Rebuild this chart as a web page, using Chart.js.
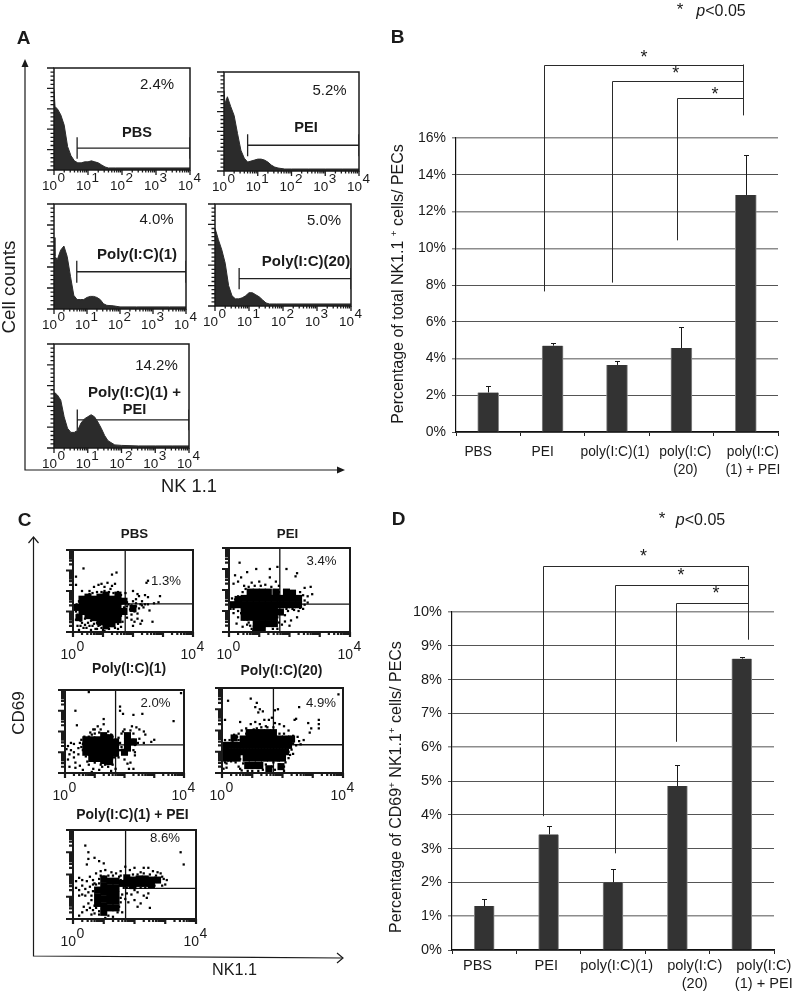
<!DOCTYPE html>
<html>
<head>
<meta charset="utf-8">
<title>NK cell panels</title>
<script src="https://cdn.jsdelivr.net/npm/chart.js@4"></script>
<style>
html, body { margin: 0; padding: 0; background: #fff; }
#page { position: relative; width: 796px; height: 992px; overflow: hidden; font-family: "Liberation Sans", Arial, sans-serif; color: #1a1a1a; }
#page canvas { position: absolute; }
#page svg { position: absolute; left: 0; top: 0; }
.txt { position: absolute; white-space: nowrap; line-height: 1; transform: translate(-50%, -50%); }
.txt sup { font-size: 62%; line-height: 0; }
</style>
</head>
<body>
<div id="page"></div>
<script>
// panel B / D bars
const barCategories = ['PBS', 'PEI', 'poly(I:C)(1)', ['poly(I:C)', '(20)'], ['poly(I:C)', '(1) + PEI']];
const nkValues = [2.15, 4.7, 3.65, 4.57, 12.9];
const nkErrorTops = [2.5, 4.83, 3.85, 5.72, 15.05];
const nkTicks = [0, 2, 4, 6, 8, 10, 12, 14, 16];
const cd69Values = [1.3, 3.42, 2.0, 4.85, 8.62];
const cd69ErrorTops = [1.5, 3.67, 2.4, 5.47, 8.68];
const cd69Ticks = [0, 1, 2, 3, 4, 5, 6, 7, 8, 9, 10];
// brackets: [category position, top value, bottom value]
const nkBrackets = [[0.87, 20, 7.65], [1.92, 19.08, 8.13], [2.93, 18.2, 10.43]];
const nkBracketRight = [3.96, 20, 17.23];
const cd69Brackets = [[0.915, 11.36, 3.96], [2.025, 10.81, 2.86], [2.98, 10.27, 6.16]];
const cd69BracketRight = [4.09, 11.36, 9.18];

// panel A histograms, x in decades of NK1.1 signal, y in % of the frame
const histBins = [0, 0.03, 0.1, 0.2, 0.3, 0.4, 0.5, 0.6, 0.7, 0.8, 0.9, 1, 1.1, 1.2, 1.3, 1.4, 1.5, 1.6, 1.8, 2, 2.5, 3, 3.5, 4];
const pbsHist = [79, 62, 60, 54, 44, 23, 14, 9, 7, 7, 8, 8, 9, 8, 7, 5, 3, 2, 2, 2, 2, 2, 2, 2];
const peiHist = [81, 68, 75, 65, 56, 38, 21, 13, 9, 10, 11, 12, 12, 11, 9, 6, 4, 3, 2, 2, 2, 2, 2, 2];
const pic1Hist = [68, 50, 47, 56, 60, 50, 31, 13, 9, 9, 9, 11, 12, 12, 11, 9, 5, 3.5, 3, 2, 2, 2, 2, 2];
const pic20Hist = [76, 73, 65, 55, 42, 20, 10, 7, 7, 8, 10, 13, 13, 11, 9, 6, 3, 2, 2, 2, 2, 2, 2, 2];
const comboHist = [53, 53, 51, 46, 30, 19, 15, 15, 17, 24, 28, 30, 32, 30, 25, 19, 12, 7, 3, 2.5, 2, 2, 2, 2];
// gates: [start decade, level, half height of the end marks]
const pbsGate = [0.68, 21.5, 10.5];
const peiGate = [0.7, 26, 11];
const pic1Gate = [0.69, 35.5, 10.5];
const pic20Gate = [0.71, 26.8, 10.5];
const comboGate = [0.69, 27, 10];

// panel C dot plots, decades on both axes; "dense" marks are the solid part of each cloud
const pbsDense = [[0.3,1.0],[0.3,1.3],[0.5,0.8],[0.5,1.1],[0.5,1.4],[0.7,0.7],[0.7,1.0],[0.7,1.3],[0.7,1.6],[0.9,0.5],[0.9,0.8],[0.9,1.1],[0.9,1.4],[0.9,1.7],[1.1,0.3],[1.1,0.6],[1.1,0.9],[1.1,1.2],[1.1,1.5],[1.1,1.8],[1.3,0.4],[1.3,0.7],[1.3,1.0],[1.3,1.3],[1.3,1.6],[1.5,0.9],[1.5,1.2],[1.5,1.5],[0.2,0.7],[2.0,1.15],[0.3,1.6],[0.5,1.7],[1.5,0.6],[1.5,1.8],[1.7,1.0],[1.7,1.5],[0.1,1.2]];
const pbsSparse = [[0.15,0.3],[0.3,0.45],[0.45,0.2],[0.5,0.45],[0.65,0.3],[0.75,0.15],[0.85,0.3],[1.0,0.1],[1.5,0.4],[1.55,0.6],[1.6,0.25],[1.65,0.5],[0.3,2.0],[0.55,2.0],[0.7,2.2],[0.85,2.3],[0.95,2.35],[1.05,2.2],[1.15,2.4],[1.3,2.25],[1.4,2.35],[1.25,2.1],[1.5,1.95],[1.6,1.8],[1.3,2.8],[1.45,2.9],[0.35,3.1],[0.1,2.7],[0.1,2.3],[1.8,1.45],[1.95,1.3],[2.0,1.5],[2.1,1.6],[2.2,1.75],[2.3,1.5],[2.4,1.8],[2.5,1.7],[2.1,1.25],[2.25,1.35],[2.35,1.2],[2.5,1.35],[2.7,1.4],[2.85,1.45],[2.9,1.75],[2.55,1.05],[1.9,1.1],[2.05,1.0],[2.15,0.9],[1.95,0.85],[2.05,0.5],[2.15,0.65],[2.25,0.4],[2.3,0.55],[2.0,0.3],[2.65,0.5],[1.8,0.7],[2.5,2.5],[2.45,2.4],[1.75,1.9],[2.0,2.0],[2.15,1.85]];
const pbsEdge = [[0.1,1.0],[0.12,1.35],[0.15,0.85],[0.1,0.6],[0.2,1.5],[0.25,0.55],[0.35,1.6],[0.4,0.65],[0.45,1.75],[0.55,1.85],[0.6,0.55],[0.65,1.9],[0.8,0.45],[0.8,1.95],[0.95,1.95],[1.05,2.0],[1.2,1.95],[1.35,1.9],[1.45,1.75],[1.6,1.6],[1.65,1.4],[1.7,1.2],[1.65,1.0],[1.6,0.8],[1.45,0.65],[0.35,0.2],[0.55,0.3],[0.7,0.4],[0.8,0.15],[0.95,0.2],[1.05,0.05],[1.2,0.15],[1.4,0.2],[1.5,0.15],[0.2,0.1],[0.25,0.3],[0.4,0.35],[0.6,0.1],[0.9,0.35],[1.8,1.25],[1.85,1.35],[2.2,1.15],[2.3,1.3],[2.4,1.35],[2.1,1.4],[1.95,0.6]];
const peiDense = [[0.1,1.3],[0.3,1.3],[0.5,1.3],[0.7,1.3],[0.9,1.3],[1.1,1.3],[1.3,1.3],[1.5,1.3],[1.7,1.3],[1.9,1.3],[2.1,1.3],[2.3,1.3],[0.7,1.6],[0.9,1.6],[1.1,1.6],[1.3,1.6],[1.5,1.6],[1.9,1.6],[2.1,1.6],[2.3,1.6],[0.7,1.9],[0.9,1.9],[1.1,1.9],[1.3,1.9],[1.9,1.9],[2.1,1.85],[0.5,1.0],[0.7,1.0],[0.9,1.0],[1.1,1.0],[1.3,1.0],[1.5,1.0],[0.7,0.7],[0.9,0.7],[1.1,0.7],[1.3,0.7],[0.9,0.4],[1.1,0.4],[1.3,0.4],[0.9,0.15],[1.1,0.15],[0.5,1.6],[0.3,1.55],[1.7,1.6],[1.55,1.9],[1.7,0.95],[0.5,0.7],[1.5,0.7],[1.5,0.4]];
const peiSparse = [[0.3,2.4],[0.4,2.6],[0.15,2.3],[0.2,2.7],[0.5,2.2],[0.35,3.3],[0.6,2.85],[0.9,3.0],[1.35,3.0],[1.6,3.1],[1.9,3.0],[2.2,2.65],[2.25,2.8],[1.35,2.6],[1.55,2.4],[1.65,2.2],[1.0,2.4],[0.75,2.35],[2.5,2.1],[2.7,2.15],[2.75,1.8],[2.6,1.7],[2.5,1.5],[2.6,1.4],[0.15,0.9],[0.3,0.7],[0.25,0.4],[0.5,0.6],[0.45,0.25],[0.6,0.35],[0.75,0.15],[1.5,0.5],[1.6,0.7],[1.75,0.9],[1.85,0.8],[1.95,1.0],[1.75,0.35],[1.85,0.5],[2.0,0.3],[2.05,0.55],[2.25,0.7],[2.3,1.0],[2.1,1.1],[0.15,1.1],[1.6,0.15]];
const peiEdge = [[0.05,1.1],[0.1,1.6],[0.2,1.55],[0.3,1.7],[0.45,1.65],[0.45,1.9],[0.55,2.05],[0.65,2.15],[0.85,2.2],[1.05,2.2],[1.2,2.25],[1.4,2.15],[1.5,2.0],[1.65,1.9],[1.7,1.65],[2.35,1.9],[2.45,1.75],[2.5,1.3],[2.45,1.1],[2.35,1.15],[2.15,1.05],[1.9,1.1],[1.7,1.05],[1.6,0.9],[1.55,0.75],[1.5,0.3],[1.45,0.15],[1.65,0.45],[0.6,0.6],[0.55,0.8],[0.4,0.9],[0.3,1.0],[0.65,0.45],[0.7,0.3],[0.8,0.05],[1.0,0.02]];
const pic1Dense = [[0.9,1.0],[0.9,1.3],[0.9,1.6],[1.1,0.7],[1.1,1.0],[1.1,1.3],[1.1,1.6],[1.3,0.6],[1.3,0.9],[1.3,1.2],[1.3,1.5],[1.3,1.8],[1.5,0.8],[1.5,1.1],[1.5,1.4],[1.7,1.2],[1.7,1.5],[0.7,1.3],[2.1,1.5],[2.1,1.2],[2.1,1.8],[0.7,1.0],[0.7,1.6],[1.5,0.55],[1.7,0.95],[1.5,1.7],[2.3,1.5],[2.0,1.0],[0.9,0.7]];
const pic1Sparse = [[0.1,1.3],[0.2,1.1],[0.3,1.4],[0.3,1.0],[0.45,1.2],[0.5,1.45],[0.45,0.9],[0.6,1.1],[0.55,1.6],[0.65,1.75],[0.7,0.8],[0.75,0.55],[0.15,0.3],[0.35,0.5],[0.5,0.35],[0.6,0.15],[0.8,0.4],[0.95,0.2],[1.0,0.5],[1.15,0.15],[1.25,0.3],[1.45,0.3],[1.55,0.1],[1.4,0.5],[0.95,2.1],[0.4,2.3],[0.35,3.0],[0.85,1.95],[1.0,2.1],[1.1,2.25],[1.2,2.1],[1.3,2.35],[1.3,2.6],[1.45,2.0],[1.55,1.85],[1.85,3.0],[1.85,3.2],[1.95,2.85],[2.3,2.8],[2.6,2.85],[2.0,2.1],[2.25,2.25],[2.4,2.2],[2.5,2.1],[2.65,2.0],[2.7,1.85],[2.5,1.65],[2.45,1.45],[2.65,1.45],[2.9,1.5],[3.0,1.6],[2.35,1.0],[2.35,0.85],[1.95,0.95],[2.0,0.65],[2.1,0.45],[2.2,0.5],[2.3,0.2],[2.15,0.2],[0.8,3.9],[3.65,2.5],[3.9,3.85],[1.7,0.9],[1.8,0.75]];
const pic1Edge = [[0.55,1.25],[0.6,1.4],[0.65,1.0],[0.7,0.95],[0.7,1.65],[0.8,1.75],[0.9,1.85],[1.0,1.9],[1.15,1.95],[1.45,1.8],[1.6,1.75],[1.8,1.7],[1.85,1.45],[1.9,1.9],[1.95,2.0],[2.2,2.05],[2.3,1.9],[2.3,1.6],[2.35,1.35],[1.85,1.1],[1.7,1.0],[1.65,0.75],[1.5,0.55],[1.35,0.4],[1.2,0.4],[0.95,0.6],[0.85,0.7],[0.15,0.9],[0.05,1.15],[0.2,1.45],[0.1,0.65],[0.3,0.75],[1.9,1.25],[2.0,1.05],[2.3,1.1],[0.35,0.25],[0.9,0.05],[1.6,0.4],[1.7,0.2]];
const pic20Dense = [[0.3,1.0],[0.5,1.0],[0.7,1.0],[0.9,1.0],[1.1,1.0],[1.3,1.0],[1.5,1.0],[1.7,1.0],[1.9,1.0],[2.1,1.0],[0.2,1.3],[0.4,1.3],[0.6,1.3],[0.8,1.3],[1.0,1.3],[1.2,1.3],[1.4,1.3],[1.6,1.3],[1.8,1.3],[2.0,1.3],[2.2,1.3],[0.7,1.6],[0.9,1.6],[1.1,1.6],[1.3,1.6],[1.5,1.6],[1.7,1.6],[1.9,1.6],[2.1,1.6],[1.3,1.9],[1.5,1.9],[1.7,1.9],[0.1,0.7],[0.8,0.7],[1.0,0.7],[1.2,0.7],[1.4,0.7],[1.6,0.7],[2.0,0.7],[0.85,0.35],[1.05,0.35],[1.25,0.35],[1.55,0.2],[1.95,0.3],[0.1,1.0],[0.1,1.3],[0.4,1.65],[0.5,0.7],[0.3,0.7],[2.3,1.6],[1.8,0.7],[1.1,1.9],[0.9,1.9]];
const pic20Sparse = [[0.1,0.5],[0.2,0.6],[0.05,0.2],[0.15,0.25],[0.3,0.55],[0.45,0.5],[0.55,0.3],[0.6,0.2],[0.7,0.45],[0.65,0.12],[1.45,0.4],[1.65,0.3],[1.75,0.15],[1.7,0.5],[1.85,0.6],[2.1,0.5],[2.2,0.7],[2.35,0.9],[0.4,1.8],[0.55,1.85],[0.65,2.0],[0.8,2.1],[0.6,2.4],[0.95,2.3],[1.1,2.4],[1.15,2.1],[1.25,2.3],[1.4,2.5],[1.45,2.2],[1.55,2.5],[1.65,2.6],[1.75,2.35],[1.9,2.3],[2.05,2.2],[2.2,2.0],[2.35,1.75],[2.5,1.7],[2.55,1.5],[2.7,1.55],[2.9,1.9],[2.95,2.1],[3.2,2.1],[3.2,2.3],[3.2,2.5],[2.85,2.35],[2.4,2.5],[2.45,2.55],[2.55,3.1],[1.1,3.1],[1.15,3.3],[1.25,3.0],[1.2,2.85],[1.35,2.9],[1.75,2.95],[1.85,3.0],[0.2,3.4],[0.95,3.5],[3.85,3.7],[0.1,2.5]];
const pic20Edge = [[0.05,1.2],[0.05,0.95],[0.15,1.0],[0.1,1.55],[0.25,1.55],[0.35,1.5],[0.45,1.6],[0.5,1.7],[0.55,1.55],[0.8,1.85],[0.95,1.85],[1.05,1.9],[1.15,1.85],[1.05,2.05],[1.3,2.15],[1.5,2.15],[1.7,2.15],[1.9,1.85],[2.05,1.85],[2.25,1.7],[2.35,1.55],[2.35,1.4],[2.45,1.3],[2.6,1.35],[2.3,1.1],[2.2,1.0],[2.25,0.85],[0.2,0.75],[0.15,0.45],[0.4,0.75],[0.5,0.7],[0.6,0.65],[1.75,0.7],[1.85,0.75],[1.9,0.4],[2.05,0.3],[2.05,0.1],[1.6,0.05],[1.2,0.1],[1.35,0.15],[1.0,0.1],[0.85,0.1]];
const comboDense = [[0.8,0.7],[0.8,1.0],[0.8,1.3],[1.0,0.3],[1.0,0.6],[1.0,0.9],[1.0,1.2],[1.0,1.5],[1.0,1.8],[1.2,0.5],[1.2,0.8],[1.2,1.1],[1.2,1.4],[1.2,1.7],[1.4,0.8],[1.4,1.1],[1.4,1.4],[1.4,1.7],[1.75,1.6],[1.95,1.5],[1.95,1.75],[2.15,1.6],[2.15,1.8],[2.35,1.6],[2.35,1.8],[2.55,1.75],[2.75,1.75],[1.4,0.5],[1.6,1.6],[1.75,1.85],[2.55,1.55]];
const comboSparse = [[0.1,1.4],[0.2,1.3],[0.3,1.5],[0.4,1.35],[0.5,1.2],[0.55,1.45],[0.6,1.05],[0.1,1.7],[0.2,1.85],[0.3,1.75],[0.45,1.7],[0.55,1.9],[0.65,1.75],[0.75,2.05],[0.9,2.15],[1.05,2.2],[1.25,2.1],[1.4,2.05],[1.55,2.15],[1.7,2.35],[1.85,2.2],[2.0,2.3],[2.2,2.1],[2.3,2.3],[2.45,2.3],[2.6,2.15],[2.75,2.1],[2.85,2.05],[2.95,1.8],[3.0,1.55],[2.9,1.5],[2.65,1.5],[0.3,0.3],[0.35,0.55],[0.2,0.15],[0.45,0.4],[0.5,0.7],[0.6,0.2],[0.7,0.25],[0.75,0.5],[1.45,0.3],[1.5,0.55],[1.6,0.3],[1.7,0.9],[1.8,0.75],[1.9,1.1],[2.0,0.85],[2.1,0.55],[2.2,0.7],[2.3,1.05],[2.4,0.95],[2.45,1.15],[2.5,0.5],[1.75,1.15],[2.1,1.2],[0.4,3.3],[0.5,3.0],[0.45,2.45],[0.5,2.7],[0.7,2.75],[0.85,2.6],[1.0,2.5],[3.5,3.0],[3.6,2.45],[1.0,1.9],[1.15,0.15],[1.3,0.1]];
const comboEdge = [[0.6,0.85],[0.65,1.25],[0.65,1.55],[0.7,1.6],[0.75,1.55],[0.85,1.6],[0.85,1.8],[0.9,1.95],[1.15,1.95],[1.3,1.95],[1.5,1.9],[1.55,1.75],[1.6,1.55],[1.65,1.4],[1.75,1.4],[1.85,1.4],[1.55,1.95],[1.75,1.9],[1.95,2.0],[2.1,2.0],[2.3,2.05],[2.5,2.0],[2.7,1.95],[2.9,1.9],[3.05,1.75],[2.45,1.5],[2.2,1.4],[2.0,1.3],[2.35,1.4],[2.55,1.45],[1.55,0.95],[1.55,0.75],[1.6,1.1],[0.7,0.6],[0.65,0.4],[0.85,0.35],[0.85,0.2],[1.05,0.05],[1.35,0.45],[1.4,0.55],[0.55,0.5],[0.4,1.05],[0.3,1.1],[0.2,1.05]];
// quadrant crossing: [x decade, y decade]
const pbsCross = [1.74, 1.37];
const peiCross = [1.68, 1.33];
const pic1Cross = [1.7, 1.36];
const pic20Cross = [1.7, 1.33];
const comboCross = [1.71, 1.38];

const FONT = '"Liberation Sans", Arial, sans-serif';
const page = document.getElementById('page');

function addCanvas(left, top, width, height) {
  const c = document.createElement('canvas');
  c.width = width;
  c.height = height;
  c.style.left = left + 'px';
  c.style.top = top + 'px';
  c.style.width = width + 'px';
  c.style.height = height + 'px';
  page.appendChild(c);
  return c;
}

function drawDecadeLabel(ctx, x, y, exp, size, supUp) {
  ctx.font = size + 'px ' + FONT;
  ctx.fillStyle = '#1a1a1a';
  ctx.textBaseline = 'middle';
  ctx.textAlign = 'right';
  ctx.fillText('10', x + 3, y);
  ctx.textAlign = 'left';
  ctx.fillText(String(exp), x + 3.5, y - supUp);
}

// frame, log ticks and decade labels around a flow cytometry plot
const flowAxes = {
  id: 'flowAxes',
  afterDatasetsDraw(chart, args, opts) {
    const ctx = chart.ctx;
    const a = chart.chartArea;
    const sx = chart.scales.x;
    const sy = chart.scales.y;
    ctx.save();
    ctx.strokeStyle = '#1a1a1a';
    ctx.lineWidth = opts.frame;
    ctx.strokeRect(a.left, a.top, a.right - a.left, a.bottom - a.top);
    ctx.lineWidth = opts.tick;
    ctx.beginPath();
    for (let d = 0; d <= 4; d++) {
      const px = sx.getPixelForValue(d);
      ctx.moveTo(px, a.bottom);
      ctx.lineTo(px, a.bottom + opts.major);
      if (d === 4) break;
      for (let m = 2; m <= 9; m++) {
        const mx = sx.getPixelForValue(d + Math.log10(m));
        ctx.moveTo(mx, a.bottom);
        ctx.lineTo(mx, a.bottom + opts.minor);
      }
    }
    if (opts.linearY) {
      for (let v = 0; v <= 100; v += 4) {
        const py = sy.getPixelForValue(v);
        ctx.moveTo(a.left, py);
        ctx.lineTo(a.left - (v % 20 === 0 ? opts.major + 2 : opts.minor + 1), py);
      }
    } else {
      for (let d = 0; d <= 4; d++) {
        const py = sy.getPixelForValue(d);
        ctx.moveTo(a.left, py);
        ctx.lineTo(a.left - opts.major - 2, py);
        if (d === 4) break;
        for (let m = 2; m <= 9; m++) {
          const my = sy.getPixelForValue(d + Math.log10(m));
          ctx.moveTo(a.left, my);
          ctx.lineTo(a.left - opts.minor - 1, my);
        }
      }
    }
    ctx.stroke();
    opts.labels.forEach(d => {
      drawDecadeLabel(ctx, sx.getPixelForValue(d), a.bottom + opts.labelGap, d, opts.labelSize, opts.supUp);
    });
    ctx.restore();
  }
};

function histogramChart(box, counts, gate) {
  const pad = { left: 16, right: 14, top: 4, bottom: 28 };
  const canvas = addCanvas(box[0] - pad.left, box[1] - pad.top, box[2] - box[0] + pad.left + pad.right, box[3] - box[1] + pad.top + pad.bottom);
  const curve = histBins.map((b, i) => ({ x: b, y: counts[i] }));
  const [start, level, half] = gate;
  const gateLine = [
    { x: start, y: level + half }, { x: start, y: level - half }, { x: start, y: level },
    { x: 4, y: level }, { x: 4, y: level + half }, { x: 4, y: level - half }
  ];
  new Chart(canvas, {
    type: 'line',
    data: {
      datasets: [
        { data: curve, borderColor: '#2b2b2b', backgroundColor: '#2b2b2b', borderWidth: 1, fill: 'origin', pointRadius: 0, tension: 0 },
        { data: gateLine, borderColor: '#222', borderWidth: 1.3, fill: false, pointRadius: 0, tension: 0 }
      ]
    },
    options: {
      responsive: false,
      animation: false,
      layout: { padding: pad },
      scales: {
        x: { type: 'linear', min: 0, max: 4, display: false },
        y: { min: 0, max: 100, display: false }
      },
      plugins: {
        legend: { display: false },
        tooltip: { enabled: false },
        flowAxes: { frame: 1.5, tick: 1.3, major: 5, minor: 2.5, linearY: true, labels: [0, 1, 2, 3, 4], labelGap: 16, labelSize: 13.5, supUp: 8 }
      }
    },
    plugins: [flowAxes]
  });
}

function dotPlotChart(box, dense, sparse, edge, cross) {
  const pad = { left: 18, right: 16, top: 4, bottom: 32 };
  const canvas = addCanvas(box[0] - pad.left, box[1] - pad.top, box[2] - box[0] + pad.left + pad.right, box[3] - box[1] + pad.top + pad.bottom);
  const toPoints = list => list.map(p => ({ x: p[0], y: p[1] }));
  new Chart(canvas, {
    type: 'scatter',
    data: {
      datasets: [
        { data: toPoints(dense), pointStyle: 'rect', pointRadius: 5, backgroundColor: '#000', borderWidth: 0 },
        { data: toPoints(sparse.concat(edge)), pointStyle: 'rect', pointRadius: 1.6, backgroundColor: '#000', borderWidth: 0 },
        { type: 'line', data: [{ x: cross[0], y: 0 }, { x: cross[0], y: 4 }], borderColor: '#111', borderWidth: 1.3, pointRadius: 0, fill: false },
        { type: 'line', data: [{ x: cross[0], y: cross[1] }, { x: 4, y: cross[1] }], borderColor: '#111', borderWidth: 1.3, pointRadius: 0, fill: false }
      ]
    },
    options: {
      responsive: false,
      animation: false,
      layout: { padding: pad },
      scales: {
        x: { type: 'linear', min: 0, max: 4, display: false },
        y: { type: 'linear', min: 0, max: 4, display: false }
      },
      plugins: {
        legend: { display: false },
        tooltip: { enabled: false },
        flowAxes: { frame: 2, tick: 2.2, major: 5, minor: 3, linearY: false, labels: [0, 4], labelGap: 23, labelSize: 14, supUp: 8 }
      }
    },
    plugins: [flowAxes]
  });
}

// error whiskers, significance brackets and hand placed category labels
const barExtras = {
  id: 'barExtras',
  afterDatasetsDraw(chart, args, opts) {
    const ctx = chart.ctx;
    const sx = chart.scales.x;
    const sy = chart.scales.y;
    ctx.save();
    ctx.strokeStyle = '#1a1a1a';
    ctx.lineWidth = 1;
    ctx.beginPath();
    opts.errorTops.forEach((top, i) => {
      const px = Math.round(sx.getPixelForValue(i)) + 0.5;
      const py = Math.round(sy.getPixelForValue(top)) + 0.5;
      ctx.moveTo(px, sy.getPixelForValue(opts.values[i]));
      ctx.lineTo(px, py);
      ctx.moveTo(px - 2.5, py);
      ctx.lineTo(px + 2.5, py);
    });
    ctx.stroke();
    ctx.strokeStyle = '#2a2a2a';
    const rx = Math.round(sx.getPixelForValue(opts.right[0])) + 0.5;
    ctx.beginPath();
    ctx.moveTo(rx, sy.getPixelForValue(opts.right[1]));
    ctx.lineTo(rx, sy.getPixelForValue(opts.right[2]));
    opts.brackets.forEach(b => {
      const px = Math.round(sx.getPixelForValue(b[0])) + 0.5;
      const top = Math.round(sy.getPixelForValue(b[1])) + 0.5;
      ctx.moveTo(rx, top);
      ctx.lineTo(px, top);
      ctx.lineTo(px, sy.getPixelForValue(b[2]));
    });
    ctx.stroke();
    ctx.font = opts.labelSize + 'px ' + FONT;
    ctx.fillStyle = '#1a1a1a';
    ctx.textAlign = 'center';
    ctx.textBaseline = 'middle';
    const base = chart.chartArea.bottom;
    chart.data.labels.forEach((label, i) => {
      const lines = Array.isArray(label) ? label : [label];
      lines.forEach((line, j) => {
        ctx.fillText(line, sx.getPixelForValue(i) + opts.labelShift[i], base + opts.labelRows[j]);
      });
    });
    ctx.restore();
  }
};

function barChart(frame, area, values, errorTops, ticks, extras) {
  const canvas = addCanvas(frame[0], frame[1], frame[2], frame[3]);
  new Chart(canvas, {
    type: 'bar',
    data: {
      labels: barCategories,
      datasets: [{ data: values, backgroundColor: '#333', borderColor: '#8a8a8a', borderWidth: { left: 1, right: 1 }, barThickness: area.bar }]
    },
    options: {
      responsive: false,
      animation: false,
      layout: { padding: { left: 0, top: area.top, right: area.right, bottom: 0 } },
      scales: {
        x: {
          afterFit(s) { s.height = area.xHeight; },
          border: { color: '#111', width: 1.2 },
          grid: { offset: true, drawOnChartArea: false, tickLength: 4, color: '#222' },
          ticks: { display: false }
        },
        y: {
          min: ticks[0],
          max: ticks[ticks.length - 1],
          afterFit(s) { s.width = area.yWidth; },
          afterBuildTicks(s) { s.ticks = ticks.map(v => ({ value: v })); },
          border: { color: '#111', width: 1.2 },
          grid: {
            color: ctx => (extras.paleTicks.includes(ctx.tick.value) ? '#8c8c8c' : '#555'),
            lineWidth: ctx => (extras.paleTicks.includes(ctx.tick.value) ? 1.5 : 1),
            tickLength: 4
          },
          ticks: {
            color: '#1a1a1a',
            padding: 6,
            font: { family: FONT, size: area.tickSize },
            callback: v => v + '%'
          }
        }
      },
      plugins: {
        legend: { display: false },
        tooltip: { enabled: false },
        barExtras: Object.assign({ errorTops: errorTops, values: values }, extras)
      }
    },
    plugins: [barExtras]
  });
}

// panel A
histogramChart([54, 68, 190, 170], pbsHist, pbsGate);
histogramChart([224, 72, 359, 171], peiHist, peiGate);
histogramChart([54, 204, 186, 309], pic1Hist, pic1Gate);
histogramChart([215, 204, 351, 306], pic20Hist, pic20Gate);
histogramChart([54, 344, 189, 448], comboHist, comboGate);

// panel C
dotPlotChart([73, 549, 193, 632], pbsDense, pbsSparse, pbsEdge, pbsCross);
dotPlotChart([229, 547, 350, 632], peiDense, peiSparse, peiEdge, peiCross);
dotPlotChart([65, 689, 184, 773], pic1Dense, pic1Sparse, pic1Edge, pic1Cross);
dotPlotChart([222, 687, 343, 773], pic20Dense, pic20Sparse, pic20Edge, pic20Cross);
dotPlotChart([73, 829, 196, 919], comboDense, comboSparse, comboEdge, comboCross);

// panel B
barChart([385, 0, 411, 495], { top: 138, right: 18, xHeight: 63, yWidth: 71, bar: 21, tickSize: 14 }, nkValues, nkErrorTops, nkTicks, {
  brackets: nkBrackets,
  right: nkBracketRight,
  paleTicks: [4, 10, 12, 16],
  labelSize: 13.8,
  labelShift: [-10, -10, -2, 4, 7],
  labelRows: [20.5, 38]
});

// panel D
barChart([385, 500, 411, 492], { top: 112, right: 22, xHeight: 42, yWidth: 67, bar: 20, tickSize: 14.5 }, cd69Values, cd69ErrorTops, cd69Ticks, {
  brackets: cd69Brackets,
  right: cd69BracketRight,
  paleTicks: [1, 6, 10],
  labelSize: 14.6,
  labelShift: [-6.7, -2.3, 3.7, 17.3, 22],
  labelRows: [16, 34]
});

// axis arrows of the two flow panels
page.insertAdjacentHTML('beforeend', `
<svg width="796" height="992" fill="none" stroke="#1a1a1a" stroke-width="1.2">
  <path d="M25 66V470H342"/>
  <path d="M25 59l-3.5 8h7z M345 470l-8-3.5v7z" fill="#1a1a1a" stroke="none"/>
  <path d="M33.5 538V956L342 958"/>
  <path d="M28.5 543l5-6 5 6 M337 953l6 5-6 5"/>
</svg>`);

// text: [html, centre x, centre y, size, bold, rotated]
const textItems = [
  ['A', 23.5, 37, 19, true], ['B', 397.5, 36, 19, true], ['C', 24.5, 519, 19, true], ['D', 398.5, 518, 19, true],
  ['Cell counts', 8.5, 287, 18.8, false, true], ['NK 1.1', 189, 486, 18.3, false],
  ['CD69', 18, 713, 17, false, true], ['NK1.1', 234.5, 969, 16.2, false],
  ['2.4%', 157, 83, 15, false], ['PBS', 137, 132, 14.6, true],
  ['5.2%', 329.5, 89, 15, false], ['PEI', 306, 127, 14.6, true],
  ['4.0%', 156.5, 218, 15, false], ['Poly(I:C)(1)', 137, 253, 15, true],
  ['5.0%', 324, 219, 15, false], ['Poly(I:C)(20)', 306, 260, 15, true],
  ['14.2%', 156.5, 364, 15, false], ['Poly(I:C)(1) +', 134.5, 391, 15, true], ['PEI', 134.5, 409, 14.6, true],
  ['PBS', 134.5, 534, 13.3, true], ['PEI', 287.5, 534, 13.3, true],
  ['Poly(I:C)(1)', 129, 669, 13.9, true], ['Poly(I:C)(20)', 281.5, 671, 13.9, true], ['Poly(I:C)(1) + PEI', 132.5, 815, 13.9, true],
  ['1.3%', 166, 581, 13.2, false], ['3.4%', 321.5, 561, 13.2, false], ['2.0%', 155.5, 703, 13.2, false],
  ['4.9%', 321, 703, 13.2, false], ['8.6%', 165, 838, 13.2, false],
  ['Percentage of total NK1.1 <sup>+</sup> cells/ PECs', 398, 284, 16, false, true],
  ['Percentage of CD69<sup>+</sup> NK1.1<sup>+</sup> cells/ PECs', 396, 787, 16, false, true],
  ['*', 680, 9, 17, false], ['<i>p</i>&lt;0.05', 721, 11, 16, false],
  ['*', 662, 518, 17, false], ['<i>p</i>&lt;0.05', 700.5, 520, 16, false],
  ['*', 644, 57, 18, false], ['*', 675.7, 73, 18, false], ['*', 715, 94, 18, false],
  ['*', 643.5, 556, 18, false], ['*', 681, 575, 18, false], ['*', 716, 593, 18, false]
];
textItems.forEach(([html, x, y, size, bold, rotated]) => {
  const d = document.createElement('div');
  d.className = 'txt';
  d.innerHTML = html;
  d.style.left = x + 'px';
  d.style.top = y + 'px';
  d.style.fontSize = size + 'px';
  if (bold) d.style.fontWeight = 'bold';
  if (rotated) d.style.transform = 'translate(-50%, -50%) rotate(-90deg)';
  page.appendChild(d);
});
</script>
</body>
</html>
